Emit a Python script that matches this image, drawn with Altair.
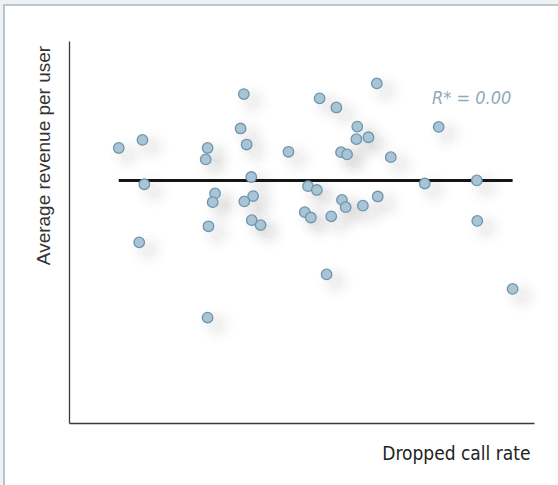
import altair as alt
import pandas as pd

# Dropped call rate (index, 0-100) and average revenue per user (index, 0-100)
drop_rate = [
    10.7, 15.8, 16.2, 15.1, 29.8, 29.4, 31.4, 30.9, 30.0, 29.8,
    37.6, 36.9, 38.2, 39.2, 39.6, 37.7, 39.3, 41.2, 47.2, 51.4,
    53.3, 50.7, 52.0, 53.9, 57.5, 55.4, 56.4, 58.5, 59.8, 58.7,
    59.5, 62.0, 61.8, 64.4, 63.2, 66.4, 66.2, 69.2, 76.5, 79.5,
    87.7, 87.8, 95.4,
]
revenue = [
    72.0, 74.1, 62.5, 47.3, 72.0, 69.0, 60.1, 57.8, 51.5, 27.6,
    86.1, 77.1, 72.9, 64.4, 59.4, 58.0, 53.1, 51.8, 71.0, 62.0,
    61.0, 55.2, 53.8, 85.0, 82.6, 38.9, 54.1, 70.9, 70.3, 58.4,
    56.5, 77.6, 74.3, 74.8, 56.9, 59.3, 88.9, 69.6, 62.7, 77.5,
    63.5, 52.9, 35.1,
]
r_squared_label = "R* = 0.00"

df = pd.DataFrame({"rate": drop_rate, "arpu": revenue})

W, H = 465, 382
NARROW = "Liberation Sans Narrow, DejaVu Sans Condensed, sans-serif"

x_scale = alt.Scale(domain=[0, 100], nice=False, zero=False)
y_scale = alt.Scale(domain=[0, 100], nice=False, zero=False)

x_enc = alt.X(
    "rate:Q",
    scale=x_scale,
    axis=alt.Axis(
        title="Dropped call rate",
        domain=True, ticks=False, labels=False, grid=False, zindex=2,
        domainColor="#3a3a3a", domainWidth=1.3,
        titleFont=NARROW, titleFontSize=19, titleFontWeight="normal",
        titleColor="#222222", titleAlign="right", titleBaseline="alphabetic",
        titleX=461, titleY=36,
    ),
)
y_enc = alt.Y(
    "arpu:Q",
    scale=y_scale,
    axis=alt.Axis(
        title="Average revenue per user",
        domain=True, ticks=False, labels=False, grid=False, zindex=2,
        domainColor="#3a3a3a", domainWidth=1.3,
        titleFont="Liberation Sans, Arial, sans-serif", titleFontSize=19,
        titleFontWeight="normal", titleColor="#333333",
        titleAngle=270, titleAlign="center", titleBaseline="alphabetic",
        titleX=-20, titleY=114,
    ),
)

# Page panel with a thin blue-grey edge
frame = alt.Chart(pd.DataFrame({"k": [0]})).mark_rect(
    fill="white", stroke="#a2bac9", strokeWidth=1.6
).encode(
    x=alt.value(-65), x2=alt.value(520),
    y=alt.value(-36), y2=alt.value(470),
)

base = alt.Chart(df)

# Soft drop shadows under each point
shadows = [
    base.mark_circle(color="#6f6f6f", opacity=op, size=sz, xOffset=9, yOffset=7)
    .encode(x=x_enc, y=y_enc)
    for sz, op in [(1300, 0.016), (800, 0.022), (450, 0.028), (200, 0.03)]
]

fit_line = base.mark_rule(color="#151515", strokeWidth=3.2).encode(
    x=alt.X("rate:Q", aggregate="min", scale=x_scale),
    x2=alt.X2("rate", aggregate="max"),
    y=alt.Y("arpu:Q", aggregate="mean", scale=y_scale),
)

points = base.mark_circle(
    size=110, color="#a9c4d4", opacity=1, stroke="#6e95ae", strokeWidth=1.3
).encode(x=x_enc, y=y_enc)

r2_text = alt.Chart(pd.DataFrame({"t": [r_squared_label]})).mark_text(
    font=NARROW, fontSize=18, fontStyle="italic", color="#8eaabb",
    align="left", baseline="alphabetic",
).encode(x=alt.value(363), y=alt.value(63), text="t:N")

chart = alt.layer(frame, *shadows, fit_line, points, r2_text).properties(
    width=W, height=H,
    background="#f0f1f1",
    padding={"left": 69, "top": 41, "right": 24, "bottom": 62},
    autosize=alt.AutoSizeParams(type="none"),
).configure_view(stroke=None)

chart.save("out.html", embed_options={"renderer": "svg", "actions": False})
